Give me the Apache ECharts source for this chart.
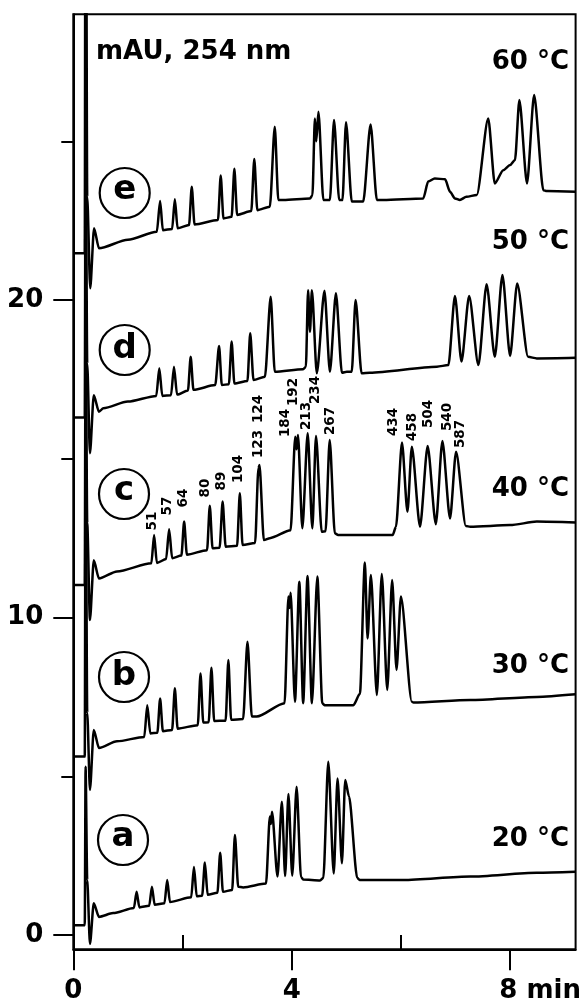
<!DOCTYPE html>
<html>
<head>
<meta charset="utf-8">
<script src="https://cdn.jsdelivr.net/npm/echarts@6/dist/echarts.min.js"></script>
<style>
  html, body { margin: 0; padding: 0; background: #fff; }
  #chart { width: 588px; height: 1006px; }
</style>
</head>
<body>
<div id="chart"></div>
<script>
// chromatograms, [time (min), absorbance (mAU)]
var traceA = [
  [0, 0.31], [0.21, 0.31], [0.225, 5.3], [0.255, 1.73], [0.305, -0.28], [0.375, 1.0], [0.47, 0.57],
  [0.73, 0.69], [1.11, 0.85], [1.16, 1.36], [1.21, 0.87],
  [1.39, 0.92], [1.44, 1.52], [1.49, 0.95],
  [1.67, 1.0], [1.72, 1.73], [1.77, 1.04],
  [2.16, 1.19], [2.21, 2.14], [2.26, 1.22],
  [2.36, 1.24], [2.41, 2.28], [2.46, 1.27],
  [2.64, 1.33], [2.69, 2.59], [2.74, 1.36],
  [2.91, 1.42], [2.96, 3.15], [3.02, 1.52],
  [3.11, 1.5], [3.53, 1.62],
  [3.6, 3.73], [3.62, 3.5], [3.64, 3.88], [3.74, 1.84], [3.82, 4.2], [3.88, 1.86], [3.94, 4.44], [4.01, 1.87], [4.09, 4.67], [4.17, 1.83],
  [4.21, 1.75], [4.52, 1.72],
  [4.58, 1.8], [4.67, 5.46], [4.77, 1.94], [4.84, 4.93], [4.92, 2.26], [4.98, 4.88], [5.05, 4.36], [5.2, 1.8],
  [5.25, 1.73], [6.04, 1.73], [7.27, 1.84], [8.49, 1.96], [9.2, 1.99]
];
var traceB = [
  [0, 5.62], [0.21, 5.62], [0.225, 16], [0.255, 7.0], [0.305, 4.57], [0.375, 6.46], [0.47, 5.89],
  [0.8, 6.1], [1.3, 6.24], [1.355, 7.24], [1.41, 6.35],
  [1.54, 6.37], [1.59, 7.45], [1.64, 6.42],
  [1.81, 6.46], [1.86, 7.77], [1.91, 6.5],
  [2.28, 6.61], [2.33, 8.24], [2.38, 6.69],
  [2.48, 6.7], [2.53, 8.42], [2.58, 6.74],
  [2.79, 6.75], [2.84, 8.66], [2.89, 6.78],
  [3.11, 6.8], [3.19, 9.24], [3.27, 6.88],
  [3.36, 6.88], [3.87, 7.3],
  [3.94, 10.66], [3.96, 10.3], [3.98, 10.78], [4.06, 7.35], [4.14, 11.13], [4.21, 7.3], [4.29, 11.31], [4.37, 7.3], [4.47, 11.29], [4.56, 7.3],
  [4.6, 7.24], [5.13, 7.24], [5.25, 7.6],
  [5.34, 11.73], [5.39, 9.34], [5.45, 11.34], [5.56, 7.56], [5.65, 11.37], [5.75, 7.72], [5.84, 11.18], [5.92, 8.35], [6.0, 10.66], [6.2, 7.35],
  [6.23, 7.32], [7.27, 7.4], [8.49, 7.5], [9.2, 7.58]
];
var traceC = [
  [0, 11.02], [0.21, 11.02], [0.225, 20], [0.255, 12.98], [0.305, 9.92], [0.375, 11.8], [0.47, 11.23],
  [0.8, 11.45], [1.43, 11.71], [1.48, 12.6], [1.53, 11.72],
  [1.7, 11.84], [1.755, 12.78], [1.81, 11.87],
  [1.98, 11.95], [2.03, 13.02], [2.08, 11.98],
  [2.45, 12.12], [2.5, 13.52], [2.55, 12.18],
  [2.68, 12.2], [2.735, 13.65], [2.79, 12.23],
  [3.0, 12.26], [3.05, 13.91], [3.1, 12.28],
  [3.33, 12.35], [3.39, 14.7], [3.41, 14.8], [3.49, 12.44],
  [3.6, 12.5], [3.98, 12.75],
  [4.065, 15.69], [4.09, 15.3], [4.115, 15.75], [4.195, 12.81], [4.293, 15.8], [4.378, 12.81], [4.445, 15.72], [4.55, 12.7], [4.62, 12.72], [4.696, 15.59], [4.79, 12.65],
  [4.85, 12.6], [5.85, 12.6], [5.91, 12.86],
  [6.02, 15.51], [6.12, 13.33], [6.2, 15.38], [6.35, 12.86], [6.49, 15.4], [6.64, 12.94], [6.76, 15.56], [6.9, 13.12], [7.01, 15.22], [7.19, 12.88],
  [7.27, 12.86], [8.0, 12.91], [8.49, 13.02], [9.2, 12.99]
];
var traceD = [
  [0, 16.3], [0.21, 16.3], [0.225, 26], [0.255, 18.0], [0.305, 15.17], [0.375, 17.0], [0.47, 16.48],
  [0.55, 16.59], [1.0, 16.8], [1.52, 16.98], [1.575, 17.85], [1.63, 16.98],
  [1.79, 17.0], [1.844, 17.9], [1.9, 17.02],
  [2.1, 17.15], [2.15, 18.21], [2.2, 17.17],
  [2.6, 17.32], [2.67, 18.55], [2.72, 17.32],
  [2.85, 17.35], [2.9, 18.69], [2.95, 17.37],
  [3.19, 17.45], [3.24, 18.95], [3.3, 17.48],
  [3.51, 17.58], [3.615, 20.1], [3.69, 17.74],
  [4.21, 17.82],
  [4.26, 17.9], [4.3, 20.31], [4.335, 19.0], [4.37, 20.31], [4.46, 17.69], [4.6, 20.29], [4.7, 17.74], [4.81, 20.21], [4.92, 17.71],
  [5.01, 17.74], [5.1, 17.74], [5.17, 20.0], [5.28, 17.69],
  [5.43, 17.71], [6.66, 17.9], [6.87, 17.95],
  [6.99, 20.13], [7.11, 18.06], [7.25, 20.13], [7.42, 17.95], [7.57, 20.5], [7.72, 18.21], [7.86, 20.79], [8.0, 18.24], [8.13, 20.52], [8.33, 18.21],
  [8.49, 18.16], [9.2, 18.18]
];
var traceE = [
  [0, 21.47], [0.21, 21.47], [0.225, 40], [0.255, 23.25], [0.31, 20.37], [0.38, 22.26], [0.47, 21.63],
  [1.0, 21.9], [1.53, 22.15], [1.59, 23.12], [1.64, 22.2],
  [1.81, 22.24], [1.86, 23.17], [1.91, 22.26],
  [2.12, 22.36], [2.17, 23.57], [2.22, 22.38],
  [2.65, 22.52], [2.7, 23.92], [2.75, 22.57],
  [2.9, 22.62], [2.95, 24.13], [3.0, 22.68],
  [3.26, 22.8], [3.315, 24.44], [3.37, 22.83],
  [3.6, 22.94], [3.69, 25.46], [3.755, 23.15],
  [3.85, 23.15], [4.335, 23.2],
  [4.38, 23.3], [4.425, 25.72], [4.45, 25.0], [4.49, 25.93], [4.58, 23.15], [4.7, 23.15], [4.775, 25.67], [4.87, 23.15], [4.93, 23.15], [4.995, 25.6], [5.1, 23.1],
  [5.31, 23.1], [5.445, 25.53], [5.56, 23.15],
  [5.68, 23.15], [6.41, 23.2], [6.5, 23.73], [6.62, 23.83], [6.81, 23.8], [6.9, 23.41], [6.99, 23.2], [7.08, 23.15], [7.2, 23.25], [7.39, 23.31],
  [7.6, 25.72], [7.72, 23.67], [7.875, 24.09], [8.0, 24.25], [8.09, 24.41], [8.17, 26.3], [8.31, 23.67], [8.44, 26.46], [8.61, 23.46],
  [8.67, 23.43], [9.2, 23.41]
];

var xTicks = [0, 4, 8];
var xMinorTicks = [2, 6];
var yTicks = [0, 10, 20];
var yMinorTicks = [5, 15, 25];

var traceNames = ['a', 'b', 'c', 'd', 'e'];
var temps = ['20 °C', '30 °C', '40 °C', '50 °C', '60 °C'];
var peakLabels = ['51', '57', '64', '80', '89', '104', '123', '124', '184', '192', '213', '234', '267', '434', '458', '504', '540', '587'];

var chart = echarts.init(document.getElementById('chart'));

var FONT = '"DejaVu Sans", sans-serif';
var black = '#000';

// annotation positions (px)
var circlePos = [[123, 840], [124, 677], [124, 494], [124.7, 350], [124.7, 193]];
var tempPos = [839, 666, 489, 242, 62];
var peakLabelPos = [
  [152, 521], [167, 506], [183, 498], [205, 488], [221.7, 481], [238, 469], [258, 444], [258, 409],
  [285, 423], [293, 392], [306.7, 416], [315, 390], [330, 421],
  [393, 422], [412, 427], [428, 414], [447, 417], [460, 434]
];

var graphics = [];
traceNames.forEach(function (n, i) {
  var p = circlePos[i];
  graphics.push({
    type: 'circle', shape: { cx: p[0], cy: p[1], r: 25 },
    style: { fill: 'none', stroke: black, lineWidth: 2.2 }
  });
  var up = (n === 'b' || n === 'd') ? 1 : 3;
  graphics.push({
    type: 'text', x: p[0], y: p[1] - up,
    style: {
      text: n, fill: black, font: 'bold 34px ' + FONT,
      align: 'center', verticalAlign: 'middle', textAlign: 'center', textVerticalAlign: 'middle'
    }
  });
  graphics.push({
    type: 'text', x: 569, y: tempPos[i],
    style: {
      text: temps[i], fill: black, font: 'bold 26px ' + FONT,
      align: 'right', verticalAlign: 'middle', textAlign: 'right', textVerticalAlign: 'middle'
    }
  });
});
peakLabels.forEach(function (s, i) {
  graphics.push({
    type: 'text', x: peakLabelPos[i][0], y: peakLabelPos[i][1], rotation: Math.PI / 2,
    style: {
      text: s, fill: black, font: 'bold 13.5px ' + FONT,
      align: 'center', verticalAlign: 'middle', textAlign: 'center', textVerticalAlign: 'middle'
    }
  });
});
graphics.push({
  type: 'text', x: 96, y: 52.5,
  style: {
    text: 'mAU, 254 nm', fill: black, font: 'bold 26px ' + FONT,
    align: 'left', verticalAlign: 'middle', textAlign: 'left', textVerticalAlign: 'middle'
  }
});

var axisFont = { color: black, fontFamily: FONT, fontWeight: 'bold', fontSize: 26 };

var option = {
  animation: false,
  backgroundColor: '#fff',
  grid: {
    left: 73.3, right: 12.4, top: 14.25, bottom: 56.7,
    show: true, borderColor: black, borderWidth: 2
  },
  xAxis: [{
    type: 'value', min: 0, max: 9.2,
    axisLine: { show: true, onZero: false, lineStyle: { color: black, width: 2 } },
    axisTick: { show: true, length: 21, customValues: xTicks, lineStyle: { color: black, width: 2 } },
    axisLabel: Object.assign({
      customValues: xTicks, margin: 29,
      formatter: function (v) { return v === 8 ? '{p| }8 min' : String(v); },
      rich: { p: { width: 60 } }
    }, axisFont),
    splitLine: { show: false }
  }, {
    type: 'value', min: 0, max: 9.2, position: 'bottom',
    axisLine: { show: false },
    axisTick: { show: true, length: 14, customValues: xMinorTicks, lineStyle: { color: black, width: 2 } },
    axisLabel: { show: false },
    splitLine: { show: false }
  }],
  yAxis: [{
    type: 'value', min: -0.45, max: 29,
    axisLine: { show: true, onZero: false, lineStyle: { color: black, width: 2 } },
    axisTick: { show: true, length: 20, customValues: yTicks, lineStyle: { color: black, width: 2 } },
    axisLabel: Object.assign({ customValues: yTicks, margin: 30 }, axisFont),
    splitLine: { show: false }
  }, {
    type: 'value', min: -0.45, max: 29, position: 'left',
    axisLine: { show: false },
    axisTick: { show: true, length: 12, customValues: yMinorTicks, lineStyle: { color: black, width: 2 } },
    axisLabel: { show: false },
    splitLine: { show: false }
  }],
  series: [traceA, traceB, traceC, traceD, traceE].map(function (d, i) {
    return {
      name: traceNames[i], type: 'line', data: d, showSymbol: false, clip: true,
      smooth: 0.25, smoothMonotone: 'x',
      lineStyle: { color: black, width: 2.5, join: 'round' }, silent: true
    };
  }),
  graphic: graphics
};

chart.setOption(option);
</script>
</body>
</html>
